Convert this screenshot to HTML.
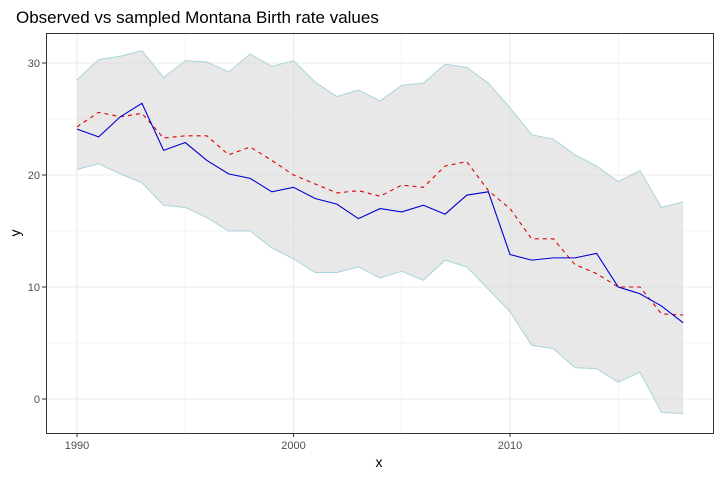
<!DOCTYPE html>
<html><head><meta charset="utf-8"><style>
body{margin:0;background:#fff;font-family:"Liberation Sans",sans-serif}
svg{display:block}
</style></head><body>
<svg id="chart" width="721" height="477">
<text x="16" y="23" font-size="17" fill="#000">Observed vs sampled Montana Birth rate values</text>
<g id="grid"></g>
<g id="marks"></g>
<rect x="46.5" y="33.5" width="667" height="400" fill="none" stroke="#333" stroke-width="1"/>
<g id="axes"></g>
<text x="379" y="467" font-size="14" text-anchor="middle">x</text>
<text x="20" y="233" font-size="14" text-anchor="middle" transform="rotate(-90 20 233)">y</text>
</svg>
<script>
const years=[1990,1991,1992,1993,1994,1995,1996,1997,1998,1999,2000,2001,2002,2003,2004,2005,2006,2007,2008,2009,2010,2011,2012,2013,2014,2015,2016,2017,2018];
const observed=[24.1,23.4,25.2,26.4,22.2,22.9,21.3,20.1,19.7,18.5,18.9,17.9,17.4,16.1,17.0,16.7,17.3,16.5,18.2,18.5,12.9,12.4,12.6,12.6,13.0,10.0,9.4,8.3,6.8];
const sampled=[24.3,25.6,25.2,25.5,23.3,23.5,23.5,21.8,22.5,21.3,20.0,19.2,18.4,18.6,18.1,19.1,18.9,20.8,21.2,18.6,17.0,14.3,14.3,12.0,11.2,10.0,10.0,7.6,7.5];
const upper=[28.5,30.3,30.6,31.1,28.7,30.2,30.1,29.2,30.8,29.7,30.2,28.3,27.0,27.6,26.6,28.0,28.2,29.9,29.6,28.2,26.0,23.6,23.2,21.8,20.8,19.4,20.4,17.1,17.6];
const lower=[20.5,21.0,20.1,19.3,17.3,17.1,16.2,15.0,15.0,13.5,12.5,11.3,11.3,11.8,10.8,11.4,10.6,12.4,11.8,9.8,7.8,4.8,4.5,2.8,2.7,1.5,2.4,-1.2,-1.3];
const xTicks=[1990,2000,2010];
const yTicks=[0,10,20,30];
const X=v=>77+(v-1990)*21.65;
const Y=v=>399-v*11.2;
const NS="http://www.w3.org/2000/svg";
function mk(t,a,p){const e=document.createElementNS(NS,t);for(const k in a)e.setAttribute(k,a[k]);p.appendChild(e);return e;}
const grid=document.getElementById('grid'),marks=document.getElementById('marks'),axes=document.getElementById('axes');
for(let v=-5;v<=35;v+=5){const y=Y(v);if(y<34||y>433)continue;
 const l=mk('line',{x1:47,x2:713,y1:y,y2:y,stroke:'#ebebeb','stroke-width':v%10===0?1.1:0.6},grid);
 
 }
for(let v=1985;v<=2020;v+=5){const x=X(v);if(x<47||x>713)continue;
 const l=mk('line',{x1:x,x2:x,y1:34,y2:433,stroke:'#ebebeb','stroke-width':v%10===0?1.1:0.6},grid);
 
 }
let pts=years.map((y,i)=>X(y)+','+Y(upper[i])).concat(years.map((y,i)=>X(y)+','+Y(lower[i])).reverse());
const band=mk('polygon',{points:pts.join(' '),fill:'#d9d9d9','fill-opacity':0.6,stroke:'none'},marks);


const ub=mk('polyline',{points:years.map((y,i)=>X(y)+','+Y(upper[i])).join(' '),fill:'none',stroke:'#a8d4dc','stroke-width':1},marks);


const lb=mk('polyline',{points:years.map((y,i)=>X(y)+','+Y(lower[i])).join(' '),fill:'none',stroke:'#a8d4dc','stroke-width':1},marks);


const sl=mk('polyline',{points:years.map((y,i)=>X(y)+','+Y(sampled[i])).join(' '),fill:'none',stroke:'#e00000','stroke-width':1.1,'stroke-dasharray':'4,4'},marks);


const ol=mk('polyline',{points:years.map((y,i)=>X(y)+','+Y(observed[i])).join(' '),fill:'none',stroke:'#0000d0','stroke-width':1.1},marks);


xTicks.forEach(v=>{const x=X(v);
 const t=mk('line',{x1:x,x2:x,y1:433,y2:437,stroke:'#333'},axes);
 
 
 const l=mk('text',{x:x,y:449,'font-size':11,'text-anchor':'middle',fill:'#4d4d4d'},axes);l.textContent=v;
 
 });
yTicks.forEach(v=>{const y=Y(v);
 const t=mk('line',{x1:42,x2:46,y1:y,y2:y,stroke:'#333'},axes);
 
 
 const l=mk('text',{x:40,y:y+4,'font-size':11,'text-anchor':'end',fill:'#4d4d4d'},axes);l.textContent=v;
 
 });
</script>
</body></html>
